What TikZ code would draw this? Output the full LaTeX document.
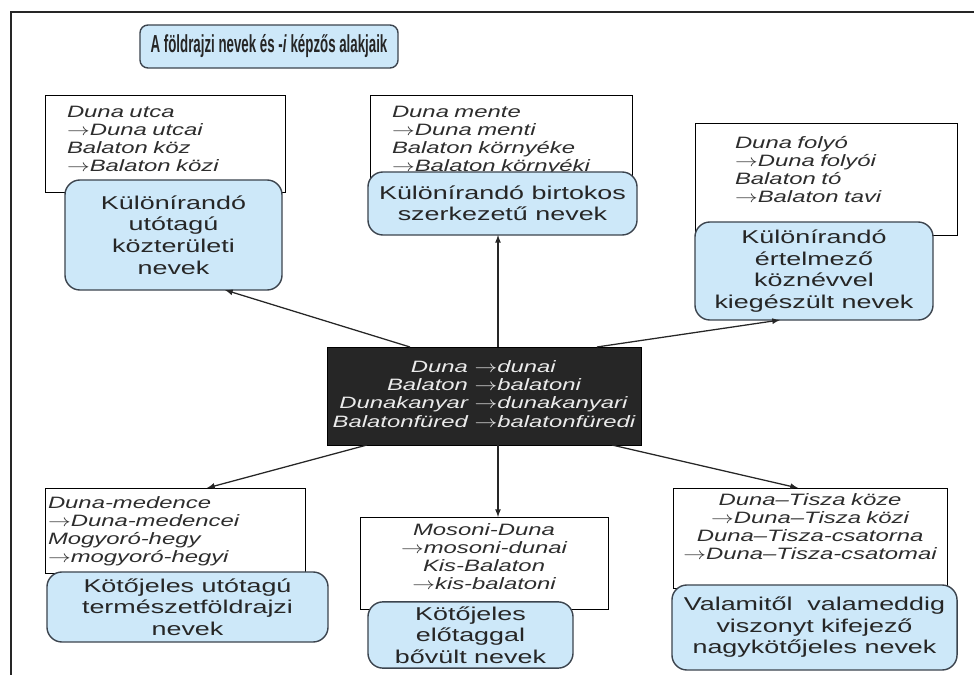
\documentclass[tikz,border=0pt]{standalone}
\usepackage{fontspec}
\setmainfont{Liberation Sans}[FakeStretch=1.45]
\newfontfamily\exfont{Liberation Sans Italic}[FakeStretch=1.45]
\newfontfamily\titlefont{Liberation Sans Bold}[FakeStretch=0.54]
\newfontfamily\titleit{Liberation Sans Bold Italic}[FakeStretch=0.54]
\usepackage{tikz}

\definecolor{boxblue}{RGB}{205,232,249}
\definecolor{boxline}{RGB}{60,68,78}
\definecolor{darkbox}{RGB}{38,38,38}
\definecolor{inkgray}{RGB}{45,45,45}

\newcommand{\toarr}{\scalebox{1.35}[1]{$\rightarrow$}}

\begin{document}
\begin{tikzpicture}[x=0.025cm, y=-0.025cm,
  every node/.style={outer sep=0pt},
  namebox/.style={draw=boxline, line width=1pt, fill=boxblue, rounded corners=0.375cm, align=center, text=black!85, font=\fontsize{13.2pt}{15.3pt}\selectfont},
  examplebox/.style={draw=black, line width=0.7pt, fill=white, anchor=north west, inner ysep=0.1cm, align=left, text=inkgray, font=\exfont\fontsize{11.7pt}{13pt}\selectfont},
  conn/.style={-latex, line width=0.9pt, black!85}]

\useasboundingbox (0,0) rectangle (974,675);
\draw[line width=1.4pt, black!85] (11,675) -- (11,12) -- (974,12);

% title
\node[namebox, rounded corners=0.2cm, minimum width=6.45cm, minimum height=1.075cm, font=\titlefont\fontsize{17.5pt}{19pt}\selectfont] (title) at (269,46.5) {A földrajzi nevek és -{\titleit i}\,képzős alakjaik};

% example boxes
\node[examplebox, text width=4.9cm, inner xsep=0.55cm, text height=0.45cm, text depth=1.775cm] (tlw) at (45,95) {Duna utca\\\toarr Duna utcai\\Balaton köz\\\toarr Balaton közi};
\node[examplebox, text width=5.45cm, inner xsep=0.55cm, text height=0.45cm, text depth=1.625cm] (tmw) at (370,95) {Duna mente\\\toarr Duna menti\\Balaton környéke\\\toarr Balaton környéki};
\node[examplebox, text width=4.55cm, inner xsep=1cm, text height=0.525cm, text depth=2.075cm] (trw) at (695,123) {Duna folyó\\\toarr Duna folyói\\Balaton tó\\\toarr Balaton tavi};
\node[examplebox, text width=6.35cm, inner xsep=0.075cm, text height=0.4cm, text depth=1.525cm] (blw) at (45,488) {Duna-medence\\\toarr Duna-medencei\\Mogyoró-hegy\\\toarr mogyoró-hegyi};
\node[examplebox, align=center, text width=6cm, inner xsep=0.1cm, text height=0.35cm, text depth=1.75cm] (bmw) at (360,517) {Mosoni-Duna\\\toarr mosoni-dunai\\Kis-Balaton\\\toarr kis-balatoni};
\node[examplebox, align=center, text width=6.65cm, inner xsep=0.1cm, text height=0.325cm, text depth=1.975cm] (brw) at (673,488) {Duna–Tisza köze\\\toarr Duna–Tisza közi\\Duna–Tisza-csatorna\\\toarr Duna–Tisza-csatomai};

% name groups
\node[namebox, minimum width=5.425cm, minimum height=2.75cm] (tlb) at (173.5,235) {Különírandó\\utótagú\\közterületi\\nevek};
\node[namebox, minimum width=6.725cm, minimum height=1.575cm] (tmb) at (502.5,203.5) {Különírandó birtokos\\szerkezetű nevek};
\node[namebox, minimum width=5.95cm, minimum height=2.45cm] (trb) at (814,271) {Különírandó\\értelmező\\köznévvel\\kiegészült nevek};
\node[namebox, minimum width=7.025cm, minimum height=1.75cm] (blb) at (187.5,607) {Kötőjeles utótagú\\természetföldrajzi\\nevek};
\node[namebox, minimum width=5.125cm, minimum height=1.65cm] (bmb) at (470.5,635) {Kötőjeles\\előtaggal\\bővült nevek};
\node[namebox, minimum width=7.125cm, minimum height=2.125cm] (brb) at (814.5,627.5) {Valamitől\ \ valameddig\\viszonyt kifejező\\nagykötőjeles nevek};

% centre
\node[fill=darkbox, draw=black, minimum width=7.85cm, minimum height=2.45cm, text=white!92!black, font=\exfont\fontsize{11.7pt}{13pt}\selectfont] (ctr) at (484,396) {\begin{tabular}{@{}r@{ }l@{}}
Duna & \toarr dunai\\
Balaton & \toarr balatoni\\
Dunakanyar & \toarr dunakanyari\\
Balatonfüred & \toarr balatonfüredi
\end{tabular}};

\draw[conn] ([shift={(83,0)}]ctr.north west) -- ([shift={(51.5,0)}]tlb.south);
\draw[conn] ([shift={(14,0)}]ctr.north) -- ([shift={(14,0)}]ctr.north |- tmb.south);
\draw[conn] ([shift={(270,0)}]ctr.north west) -- ([shift={(-34,0)}]trb.south);
\draw[conn] ([shift={(40,0)}]ctr.south west) -- ([shift={(32,0)}]blw.north);
\draw[conn] ([shift={(14,0)}]ctr.south) -- ([shift={(14,0)}]ctr.south |- bmw.north);
\draw[conn] ([shift={(285,0)}]ctr.south west) -- ([shift={(-12,0)}]brw.north);
\end{tikzpicture}
\end{document}
